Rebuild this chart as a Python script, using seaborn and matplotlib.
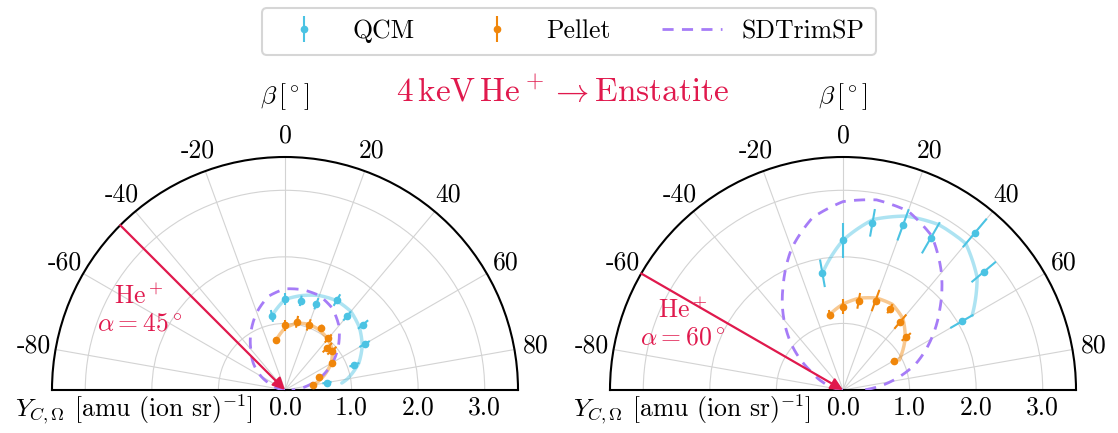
import numpy as np
import pandas as pd
import matplotlib
matplotlib.use("Agg")
import matplotlib.pyplot as plt
import seaborn as sns

# ---------------- data ----------------
# emission angle beta (deg) and yields Y_{C,Omega} [amu/(ion sr)]
# alpha = 45 deg
qcm45_beta = [-10, 0, 10, 20, 30, 40, 50, 60, 70, 80]
qcm45_y = [1.13, 1.37, 1.36, 1.38, 1.56, 1.45, 1.53, 1.38, 1.11, 0.64]
qcm45_err = [0.09, 0.09, 0.08, 0.09, 0.10, 0.09, 0.10, 0.09, 0.08, 0.07]

pel45_beta = [-10, 0, 10, 20, 30, 40, 45, 50, 60, 70, 80]
pel45_y = [0.76, 0.97, 1.04, 1.04, 1.08, 1.01, 0.90, 0.92, 0.81, 0.55, 0.43]
pel45_err = [0.04, 0.08, 0.09, 0.09, 0.05, 0.08, 0.10, 0.09, 0.04, 0.05, 0.04]

qcm45_fit_beta = [-10, 0, 10, 20, 30, 40, 50, 60, 70, 80, 83]
qcm45_fit_y = [1.13, 1.36, 1.44, 1.51, 1.55, 1.54, 1.46, 1.34, 1.18, 0.95, 0.86]

pel45_fit_beta = [-10, 0, 10, 20, 30, 40, 50, 60, 70, 80]
pel45_fit_y = [0.76, 0.93, 1.02, 1.05, 1.04, 1.00, 0.93, 0.80, 0.62, 0.43]

sdt45_beta = [-90, -80, -70, -60, -50, -40, -30, -20, -10, 0, 10, 20, 30, 40, 50, 60, 70, 80, 90]
sdt45_y = [0.0, 0.08, 0.20, 0.42, 0.62, 0.80, 1.02, 1.24, 1.43, 1.52, 1.53, 1.51, 1.42, 1.26, 1.05, 0.83, 0.58, 0.33, 0.10]

# alpha = 60 deg
qcm60_beta = [-10, 0, 10, 20, 30, 40, 50, 60]
qcm60_y = [1.78, 2.25, 2.55, 2.64, 2.64, 3.08, 2.76, 2.06]
qcm60_err = [0.21, 0.26, 0.21, 0.25, 0.27, 0.28, 0.24, 0.20]

pel60_beta = [-10, 0, 10, 20, 30, 40, 50, 60]
pel60_y = [1.15, 1.25, 1.36, 1.43, 1.41, 1.34, 1.24, 0.88]
pel60_err = [0.07, 0.11, 0.12, 0.17, 0.08, 0.14, 0.09, 0.05]

qcm60_fit_beta = [-10, 0, 10, 20, 30, 40, 50, 60]
qcm60_fit_y = [1.78, 2.25, 2.60, 2.78, 2.87, 2.87, 2.63, 2.24]

pel60_fit_beta = [-10, 0, 10, 20, 30, 40, 50, 60, 62]
pel60_fit_y = [1.15, 1.29, 1.40, 1.47, 1.485, 1.40, 1.22, 1.00, 0.96]

sdt60_beta = [-90, -80, -70, -60, -50, -40, -30, -20, -10, 0, 10, 20, 30, 40, 50, 60, 70, 80, 90]
sdt60_y = [0.0, 0.10, 0.30, 0.55, 0.97, 1.38, 1.80, 2.26, 2.63, 2.83, 2.90, 2.86, 2.67, 2.30, 1.90, 1.53, 1.17, 0.73, 0.30]

theta_ticks = [-80, -60, -40, -20, 0, 20, 40, 60, 80]
theta_labels = ["-80", "-60", "-40", "-20", "0", "20", "40", "60", "80"]
r_ticks = [0.0, 1.0, 2.0, 3.0]
r_labels = ["0.0", "1.0", "2.0", "3.0"]
incidence = [45, 60]

# ---------------- style ----------------
sns.set_style("white")
plt.rcParams["font.family"] = "serif"
plt.rcParams["font.serif"] = ["cmr10", "DejaVu Serif"]
plt.rcParams["mathtext.fontset"] = "cm"
plt.rcParams["axes.unicode_minus"] = False
plt.rcParams["axes.formatter.use_mathtext"] = True
for key in ["text.color", "axes.labelcolor", "xtick.color", "ytick.color"]:
    plt.rcParams[key] = "black"

C_QCM = "#4BC3E3"
C_PEL = "#F0860A"
C_SDT = "#A67CF7"
C_RED = "#E0194D"
FS = 18.5

fig = plt.figure(figsize=(11.18, 4.33), dpi=100)
W, H = 1118, 433
R = 233        # px radius of the half disc
BASE = 390     # px (from top) of the baseline


def make_ax(cx):
    # the half disc is centred inside a square box of side 2R
    cy = BASE - R / 2
    rect = [(cx - R) / W, (H - cy - R) / H, 2 * R / W, 2 * R / H]
    ax = fig.add_axes(rect, projection="polar")
    ax.set_theta_zero_location("N")
    ax.set_theta_direction(-1)
    ax.set_thetamin(-90)
    ax.set_thetamax(90)
    ax.set_rlim(0, 3.5)
    return ax


def draw(ax, cx, alpha, data):
    (qb, qy, qe, pb, py, pe, qfb, qfy, pfb, pfy, sb, sy) = data
    fits = pd.concat([
        pd.DataFrame({"th": np.deg2rad(qfb), "r": qfy, "s": "QCM fit"}),
        pd.DataFrame({"th": np.deg2rad(pfb), "r": pfy, "s": "Pellet fit"}),
    ])
    sns.lineplot(data=fits, x="th", y="r", hue="s", sort=False, estimator=None,
                 palette={"QCM fit": C_QCM, "Pellet fit": C_PEL},
                 lw=2.5, alpha=0.45, legend=False, ax=ax, zorder=2)
    sdt = pd.DataFrame({"th": np.deg2rad(sb), "r": sy})
    sns.lineplot(data=sdt, x="th", y="r", sort=False, estimator=None, color=C_SDT,
                 lw=2.0, ls=(0, (4, 3)), ax=ax, zorder=3)
    # let the curves follow the polar grid between the listed angles
    for ln in ax.lines:
        ln.get_path()._interpolation_steps = 60

    h1 = ax.errorbar(np.deg2rad(qb), qy, yerr=qe, fmt="o", ms=4.5, color=C_QCM,
                     elinewidth=1.5, capsize=0, zorder=4)
    h2 = ax.errorbar(np.deg2rad(pb), py, yerr=pe, fmt="o", ms=4.5, color=C_PEL,
                     elinewidth=1.5, capsize=0, zorder=4)

    ax.set_thetagrids(theta_ticks, theta_labels, fontsize=FS)
    ax.tick_params(axis="x", pad=5)
    ax.set_rticks(r_ticks)
    ax.set_yticklabels([])
    for r, lab in zip(r_ticks, r_labels):
        ax.annotate(lab, xy=(np.pi / 2, r), xytext=(0, -4), textcoords="offset points",
                    ha="center", va="top", fontsize=FS, annotation_clip=False)
    ax.grid(True, color="#d3d3d3", lw=0.8)
    for s in ax.spines.values():
        s.set_color("black")
        s.set_linewidth(1.5)
    ax.set_xlabel("")
    ax.set_ylabel("")

    # incoming ion direction
    ax.annotate("", xy=(0, 0), xytext=(np.deg2rad(-alpha), 3.5),
                arrowprops=dict(arrowstyle="-|>", color=C_RED, lw=1.6,
                                mutation_scale=18, shrinkA=0, shrinkB=0), zorder=5)
    txt_pos = {45: (np.deg2rad(-61), 2.5), 60: (np.deg2rad(-67.5), 2.6)}[alpha]
    ax.text(*txt_pos, "He$^+$\n$\\alpha = %d^\\circ$" % alpha, color=C_RED,
            fontsize=FS, ha="center", va="center", linespacing=1.15)
    fig.text(cx / W, 1 - 97 / H, r"$\beta\,[^\circ]$", ha="center", va="center", fontsize=FS)
    fig.text((cx - 270) / W, 1 - 410 / H, r"$Y_{C,\Omega}$ [amu (ion sr)$^{\mathrm{-1}}$]",
             ha="left", va="center", fontsize=FS)
    return h1, h2


ax1 = make_ax(285)
ax2 = make_ax(843)
h1, h2 = draw(ax1, 285, incidence[0],
              (qcm45_beta, qcm45_y, qcm45_err, pel45_beta, pel45_y, pel45_err,
               qcm45_fit_beta, qcm45_fit_y, pel45_fit_beta, pel45_fit_y,
               sdt45_beta, sdt45_y))
draw(ax2, 843, incidence[1],
     (qcm60_beta, qcm60_y, qcm60_err, pel60_beta, pel60_y, pel60_err,
      qcm60_fit_beta, qcm60_fit_y, pel60_fit_beta, pel60_fit_y,
      sdt60_beta, sdt60_y))

sdt_handle = plt.Line2D([], [], color=C_SDT, lw=2.0, ls=(0, (4, 3)))
leg = fig.legend([h1, h2, sdt_handle], ["QCM", "Pellet", "SDTrimSP"], loc="upper center",
                 bbox_to_anchor=(569 / W, 1 - 8 / H), ncol=3, fontsize=FS, frameon=True,
                 columnspacing=2.0, handlelength=2.35, handletextpad=0.75,
                 borderpad=0.45, borderaxespad=0, fancybox=True)
leg.get_frame().set_edgecolor("#cccccc")
leg.get_frame().set_linewidth(1.5)

fig.text(563 / W, 1 - 92 / H, r"$4\,\mathrm{keV}\,\mathrm{He}^+ \rightarrow \mathrm{Enstatite}$",
         color=C_RED, fontsize=24, ha="center", va="center")

fig.savefig("out.png", dpi=100)
